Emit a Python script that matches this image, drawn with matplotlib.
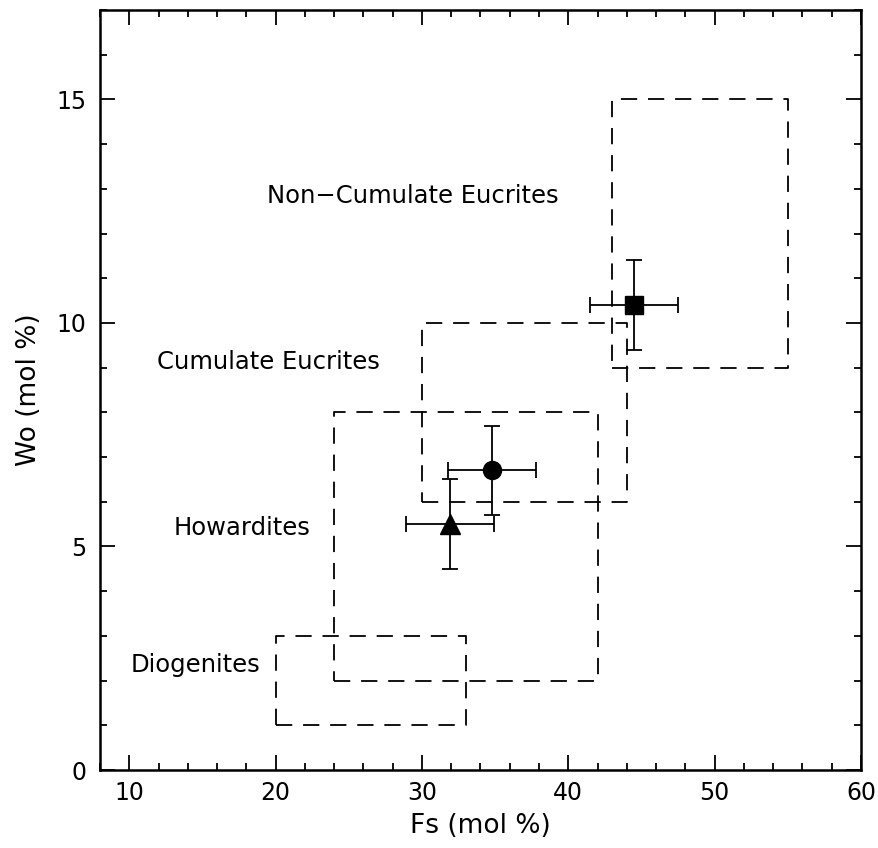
import matplotlib
matplotlib.use("Agg")
import matplotlib.pyplot as plt
from matplotlib.ticker import MultipleLocator

# Data
box_names = ["Non\u2212Cumulate Eucrites", "Cumulate Eucrites", "Howardites", "Diogenites"]
box_x0 = [43, 30, 24, 20]
box_x1 = [55, 44, 42, 33]
box_y0 = [9, 6, 2, 1]
box_y1 = [15, 10, 8, 3]
label_x = [29.4, 19.5, 17.7, 14.5]
label_y = [12.85, 9.12, 5.41, 2.35]

pt_x = [44.5, 34.8, 31.9]
pt_y = [10.4, 6.7, 5.5]
pt_xerr = [3.0, 3.0, 3.0]
pt_yerr = [1.0, 1.0, 1.0]
pt_marker = ["s", "o", "^"]

fig = plt.figure(figsize=(8.79, 8.48), dpi=100)
ax = fig.add_axes([100/879, 78/848, 761/879, 760/848])

for x0, x1, y0, y1 in zip(box_x0, box_x1, box_y0, box_y1):
    ax.plot([x0, x1, x1, x0, x0], [y0, y0, y1, y1, y0], color="black",
            lw=1.3, dashes=(9, 6))

for name, lx, ly in zip(box_names, label_x, label_y):
    ax.text(lx, ly, name, ha="center", va="center", fontsize=17.5)

for x, y, xe, ye, m in zip(pt_x, pt_y, pt_xerr, pt_yerr, pt_marker):
    ms = 14 if m == "^" else 13
    ax.errorbar(x, y, xerr=xe, yerr=ye, fmt=m, color="black", ms=ms,
                elinewidth=1.3, capsize=6, capthick=1.3)

ax.set_xlim(8, 60)
ax.set_ylim(0, 17)
ax.xaxis.set_major_locator(MultipleLocator(10))
ax.xaxis.set_minor_locator(MultipleLocator(2))
ax.yaxis.set_major_locator(MultipleLocator(5))
ax.yaxis.set_minor_locator(MultipleLocator(1))
ax.tick_params(which="both", direction="in", top=True, right=True, width=1.3,
               labelsize=17)
ax.tick_params(which="major", length=11)
ax.tick_params(which="minor", length=5)
ax.tick_params(axis="x", pad=8)
ax.tick_params(axis="y", pad=10)
for s in ax.spines.values():
    s.set_linewidth(1.8)
ax.set_xlabel("Fs (mol %)", fontsize=19, labelpad=6)
ax.set_ylabel("Wo (mol %)", fontsize=19, labelpad=10)

fig.savefig("out.png", dpi=100)
